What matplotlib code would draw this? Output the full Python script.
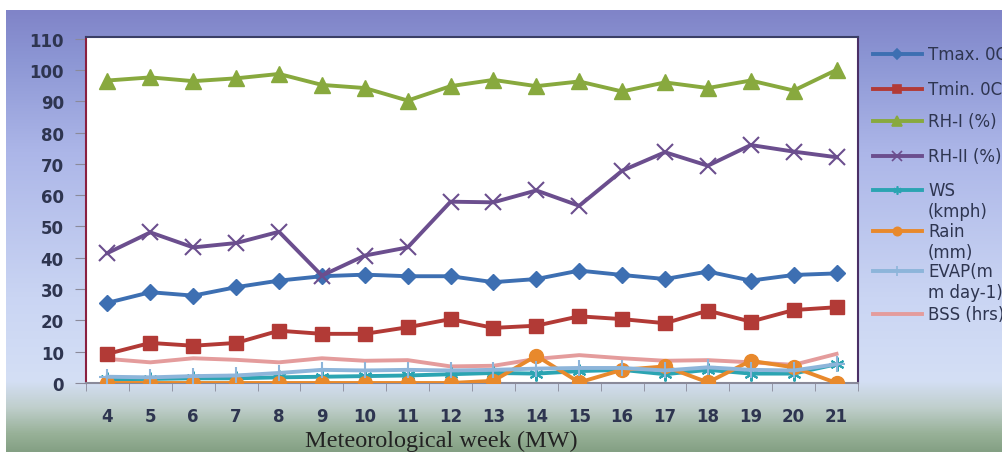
import numpy as np
import matplotlib
matplotlib.use('Agg')
import matplotlib.pyplot as plt
from matplotlib.lines import Line2D
from matplotlib.colors import LinearSegmentedColormap

# weeks and series
weeks = [4, 5, 6, 7, 8, 9, 10, 11, 12, 13, 14, 15, 16, 17, 18, 19, 20, 21]
tmax = [25.6, 29.0, 27.9, 30.6, 32.7, 34.1, 34.6, 34.1, 34.1, 32.2, 33.2, 35.9, 34.5, 33.2, 35.6, 32.7, 34.5, 35.0]
tmin = [9.3, 12.8, 11.9, 12.8, 16.7, 15.7, 15.7, 17.8, 20.4, 17.6, 18.3, 21.3, 20.4, 19.1, 23.1, 19.6, 23.3, 24.2]
rh1 = [96.6, 97.6, 96.4, 97.3, 98.7, 95.2, 94.2, 90.2, 94.8, 96.8, 94.8, 96.3, 93.1, 96.0, 94.2, 96.6, 93.4, 100.0]
rh2 = [41.5, 48.1, 43.3, 44.7, 48.3, 34.3, 40.7, 43.3, 57.9, 57.7, 61.5, 56.6, 67.8, 73.7, 69.4, 76.0, 73.9, 72.1]
ws = [1.2, 1.3, 1.5, 1.5, 1.8, 2.0, 2.2, 2.4, 2.8, 3.2, 3.0, 3.8, 4.2, 2.8, 4.2, 3.0, 3.0, 6.0]
rain = [0.0, 0.0, 0.0, 0.0, 0.0, 0.0, 0.0, 0.0, 0.0, 0.7, 8.7, 0.2, 4.2, 5.3, 0.2, 7.1, 5.0, 0.0]
evap = [2.0, 1.8, 2.2, 2.4, 3.2, 4.2, 4.0, 4.2, 4.0, 4.2, 4.6, 4.8, 4.8, 4.0, 5.0, 4.2, 4.0, 6.0]
bss = [7.7, 6.6, 7.9, 7.4, 6.6, 7.9, 7.1, 7.3, 5.3, 5.5, 7.7, 8.9, 7.9, 7.1, 7.3, 6.6, 5.8, 9.3]

series = [
    ('Tmax. 0C', tmax, '#3d6fb2', 'D', 8),
    ('Tmin. 0C', tmin, '#b23a36', 's', 10),
    ('RH-I (%)', rh1, '#88a93e', '^', 12),
    ('RH-II (%)', rh2, '#6b4e8e', 'x', 11),
    ('WS\n(kmph)', ws, '#2ba4b2', (6, 2, 0), 10),
    ('Rain\n(mm)', rain, '#e8892c', 'o', 10),
    ('EVAP(m\nm day-1)', evap, '#8db5da', '+', 12),
    ('BSS (hrs)', bss, '#e49c9c', None, 0),
]

W, H = 1003, 456
fig = plt.figure(figsize=(W / 100, H / 100), dpi=100)
fig.patch.set_facecolor('white')

# gradient backdrop
bg = fig.add_axes([6 / W, 3 / H, 997 / W, 442 / H], zorder=-10)
stops = [(0.0, (128, 132, 200)), (0.11, (140, 150, 212)), (0.32, (172, 182, 232)),
         (0.65, (202, 213, 243)), (0.84, (212, 223, 245)), (0.90, (192, 207, 205)),
         (0.96, (152, 177, 152)), (1.0, (132, 160, 132))]
cmap = LinearSegmentedColormap.from_list('bg', [(p, tuple(c / 255 for c in rgb)) for p, rgb in stops])
bg.imshow(np.linspace(0, 1, 256).reshape(-1, 1), aspect='auto', cmap=cmap, extent=[0, 1, 0, 1])
bg.set_axis_off()

ax = fig.add_axes([86 / W, (H - 384) / H, 772 / W, 346 / H])
ax.set_facecolor('white')
x = np.arange(len(weeks))
for name, vals, col, mk, ms in series:
    if mk is None:
        ax.plot(x, vals, color=col, lw=2.8, zorder=2)
    else:
        mew = 1.5 if mk in ('x', '+') or isinstance(mk, tuple) else 1
        ax.plot(x, vals, color=col, lw=2.8, marker=mk, ms=ms, mew=mew,
                mec=col, zorder=3)

ax.set_xlim(-0.5, len(weeks) - 0.5)
ax.set_ylim(0, 110.5)
ax.set_yticks(range(0, 111, 10))
ax.set_xticks(x)
ax.set_xticklabels([str(w) for w in weeks])
ax.set_xticks(np.arange(-0.5, len(weeks), 1), minor=True)
ax.tick_params(axis='x', which='major', length=0, pad=17)
ax.tick_params(axis='x', which='minor', length=6, direction='out', color='#8a8a9a')
ax.tick_params(axis='y', length=8, direction='out', color='#8a8a9a', pad=8)
for lab in ax.get_xticklabels() + ax.get_yticklabels():
    lab.set_fontsize(12)
    lab.set_fontweight('bold')
    lab.set_color('#2e3550')

ax.spines['bottom'].set_color('#8a8a9a')
ax.spines['bottom'].set_linewidth(1.5)
ax.spines['top'].set_color('#3a3f66')
ax.spines['top'].set_linewidth(1.5)
ax.spines['right'].set_color('#4a2f66')
ax.spines['right'].set_linewidth(1.5)
ax.spines['left'].set_color('#8a2040')
ax.spines['left'].set_linewidth(1.5)

fig.text(441 / W, 1 - 441 / H, 'Meteorological week (MW)', ha='center', va='center',
         fontsize=17.5, family='Liberation Serif', color='#222222')

# legend drawn by hand so the rows sit like the original
rows = [55, 90, 122, 157, 191, 232, 272, 315]
for (name, vals, col, mk, ms), yrow in zip(series, rows):
    yy = 1 - yrow / H
    fig.add_artist(Line2D([873 / W, 922 / W], [yy, yy], transform=fig.transFigure,
                          color=col, lw=2.8))
    if mk is not None:
        fig.add_artist(Line2D([897.5 / W], [yy], transform=fig.transFigure, color=col,
                              marker=mk, ms=ms * 0.6, mew=1.2, mec=col, lw=0))
    for i, part in enumerate(name.split('\n')):
        fig.text(928 / W, yy - i * 21 / H, part, ha='left', va='center',
                 fontsize=12, color='#2e3550')

fig.savefig('out.png', dpi=100, facecolor=fig.get_facecolor())
